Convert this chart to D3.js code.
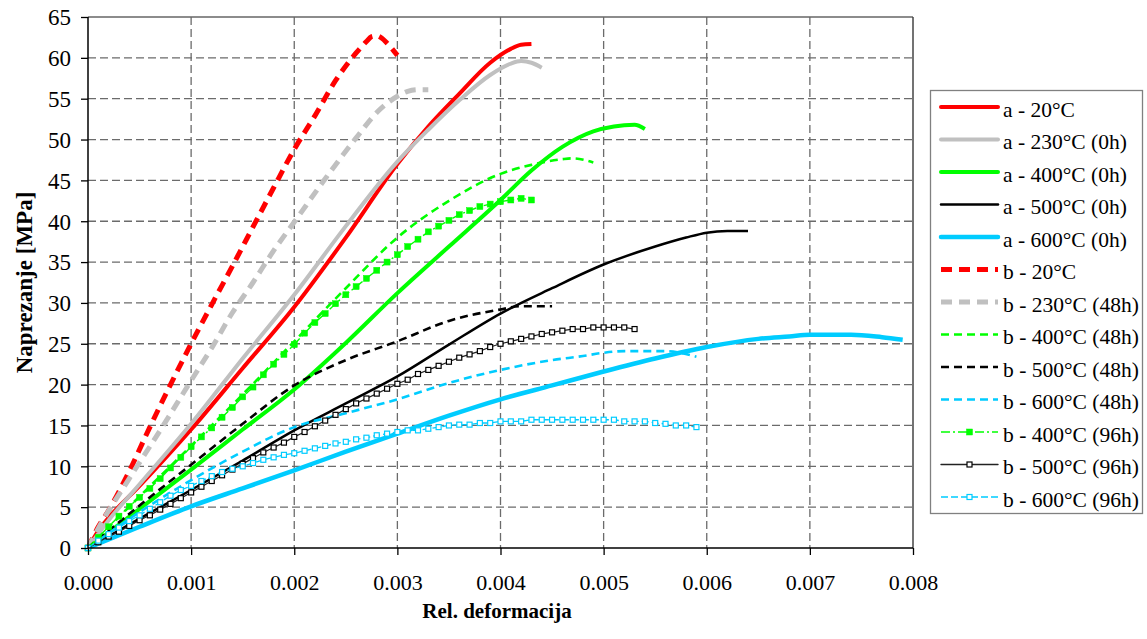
<!DOCTYPE html>
<html>
<head>
<meta charset="utf-8">
<script src="https://cdn.jsdelivr.net/npm/d3@7/dist/d3.min.js"></script>
<style>
  html, body { margin: 0; padding: 0; background: #fff; }
  svg { display: block; }
  svg text { font-family: "Liberation Serif", Tinos, "Times New Roman", Times, "DejaVu Serif", serif; fill: #000; }
</style>
</head>
<body>
<svg id="chart" width="1147" height="639"></svg>
<script>
// ---------- DATA ----------
const xTicks = [0, 0.001, 0.002, 0.003, 0.004, 0.005, 0.006, 0.007, 0.008];
const yTicks = [0, 5, 10, 15, 20, 25, 30, 35, 40, 45, 50, 55, 60, 65];
const xTitle = "Rel. deformacija";
const yTitle = "Naprezanje [MPa]";

const seriesNames = [
  "a - 20°C", "a - 230°C (0h)", "a - 400°C (0h)", "a - 500°C (0h)", "a - 600°C (0h)",
  "b - 20°C", "b - 230°C (48h)", "b - 400°C (48h)", "b - 500°C (48h)", "b - 600°C (48h)",
  "b - 400°C (96h)", "b - 500°C (96h)", "b - 600°C (96h)"
];

const a20 = [[0,0],[0.0001,2.1],[0.0002,3.7],[0.0005,7.6],[0.001,14.5],[0.0015,22.0],[0.002,29.5],[0.0025,38.0],[0.003,47.0],[0.0033,51.6],[0.0036,55.6],[0.0039,59.4],[0.0041,61.1],[0.0042,61.6],[0.0043,61.7]];
const a230 = [[0,0],[0.0002,3.4],[0.0005,7.8],[0.001,15.2],[0.0015,23.2],[0.002,31.0],[0.0025,39.4],[0.003,47.3],[0.0033,51.2],[0.0036,54.8],[0.0039,57.9],[0.0041,59.3],[0.0042,59.6],[0.0043,59.4],[0.0044,58.8]];
const a400 = [[0,0],[0.0005,4.8],[0.001,9.6],[0.0015,14.5],[0.002,19.4],[0.0025,25.1],[0.003,31.2],[0.0035,36.9],[0.004,42.6],[0.0043,46.2],[0.0046,49.1],[0.0049,51.0],[0.0051,51.6],[0.0053,51.8],[0.0054,51.3]];
const a500 = [[0,0],[0.0005,3.6],[0.001,7.1],[0.0015,10.7],[0.002,14.4],[0.0025,17.7],[0.003,21.0],[0.0035,24.9],[0.004,28.7],[0.0045,31.8],[0.005,34.7],[0.0055,36.9],[0.0058,38.0],[0.006,38.6],[0.0062,38.8],[0.0064,38.8]];
const a600 = [[0,0],[0.0005,2.6],[0.001,5.1],[0.0015,7.3],[0.002,9.5],[0.0025,11.8],[0.003,14.0],[0.0035,16.2],[0.004,18.2],[0.0045,19.9],[0.005,21.6],[0.0055,23.2],[0.006,24.6],[0.0065,25.6],[0.0068,25.9],[0.007,26.1],[0.0074,26.1],[0.0077,25.8],[0.0079,25.5]];

const b20 = [[0,0],[0.0001,2.6],[0.0002,4.6],[0.0004,9.4],[0.0006,14.8],[0.0008,20.0],[0.001,25.0],[0.0012,29.8],[0.0014,34.5],[0.0016,39.3],[0.0018,44.1],[0.002,48.8],[0.0022,52.9],[0.0024,57.2],[0.0026,60.6],[0.0027,62.0],[0.00275,62.6],[0.0028,62.7],[0.00285,62.4],[0.0029,61.8],[0.003,60.3]];
const b230_48 = [[0,0],[0.0001,2.4],[0.0004,8.5],[0.0007,14.4],[0.001,20.5],[0.0012,24.5],[0.0014,28.8],[0.0016,32.5],[0.0018,36.4],[0.002,39.9],[0.0023,45.2],[0.0026,50.2],[0.0028,53.3],[0.003,55.3],[0.0031,55.9],[0.0032,56.1],[0.0033,56.1]];
const b400_48 = [[0,0],[0.0005,6.3],[0.001,12.5],[0.0015,18.8],[0.002,25.3],[0.0025,31.8],[0.003,38.0],[0.0035,42.5],[0.004,45.8],[0.0043,46.9],[0.0046,47.6],[0.0047,47.7],[0.0049,47.2]];
const b500_48 = [[0,0],[0.0005,5.2],[0.001,10.2],[0.0015,15.2],[0.002,19.9],[0.0025,23.0],[0.003,25.3],[0.0035,27.8],[0.004,29.2],[0.0042,29.6],[0.0045,29.6]];
const b600_48 = [[0,0],[0.0005,4.4],[0.001,8.3],[0.0015,11.8],[0.002,14.8],[0.0025,16.5],[0.003,18.2],[0.0035,20.2],[0.004,21.8],[0.0045,23.0],[0.0048,23.5],[0.005,23.9],[0.0052,24.1],[0.0056,24.1],[0.0059,23.4]];

const b400_96 = [[0,0],[0.0001,1.3],[0.0002,2.6],[0.0003,3.9],[0.0004,5.1],[0.0005,6.2],[0.0006,7.3],[0.0007,8.5],[0.0008,9.8],[0.0009,11.1],[0.001,12.4],[0.0011,13.6],[0.0012,14.7],[0.0013,16.0],[0.0014,17.2],[0.0015,18.5],[0.0016,19.7],[0.0017,21.2],[0.0018,22.5],[0.0019,23.7],[0.002,24.9],[0.0021,26.3],[0.0022,27.6],[0.0023,28.7],[0.0024,29.9],[0.0025,31.0],[0.0026,32.0],[0.0027,33.0],[0.0028,34.0],[0.0029,35.0],[0.003,35.9],[0.0031,36.9],[0.0032,37.8],[0.0033,38.7],[0.0034,39.4],[0.0035,40.1],[0.0036,40.8],[0.0037,41.3],[0.0038,41.8],[0.0039,42.1],[0.004,42.4],[0.0041,42.6],[0.0042,42.8],[0.0043,42.6]];
const b500_96 = [[0,0],[0.0001,0.7],[0.0002,1.4],[0.0003,2.0],[0.0004,2.7],[0.0005,3.4],[0.0006,4.0],[0.0007,4.7],[0.0008,5.4],[0.0009,6.1],[0.001,6.8],[0.0011,7.5],[0.0012,8.2],[0.0013,8.9],[0.0014,9.6],[0.0015,10.3],[0.0016,11.0],[0.0017,11.7],[0.0018,12.3],[0.0019,12.9],[0.002,13.6],[0.0021,14.2],[0.0022,14.9],[0.0023,15.6],[0.0024,16.3],[0.0025,17.0],[0.0026,17.7],[0.0027,18.3],[0.0028,18.9],[0.0029,19.5],[0.003,20.1],[0.0031,20.6],[0.0032,21.3],[0.0033,21.8],[0.0034,22.3],[0.0035,22.8],[0.0036,23.3],[0.0037,23.7],[0.0038,24.1],[0.0039,24.6],[0.004,25.0],[0.0041,25.3],[0.0042,25.6],[0.0043,25.9],[0.0044,26.2],[0.0045,26.4],[0.0046,26.6],[0.0047,26.8],[0.0048,26.8],[0.0049,27.0],[0.005,27.0],[0.0051,27.0],[0.0052,27.0],[0.0053,26.8]];
const b600_96 = [[0,0],[0.0001,0.9],[0.0002,1.7],[0.0003,2.5],[0.0004,3.3],[0.0005,4.0],[0.0006,4.8],[0.0007,5.6],[0.0008,6.4],[0.0009,7.1],[0.001,7.6],[0.0011,8.2],[0.0012,8.8],[0.0013,9.3],[0.0014,9.7],[0.0015,10.0],[0.0016,10.4],[0.0017,10.8],[0.0018,11.1],[0.0019,11.4],[0.002,11.6],[0.0021,11.9],[0.0022,12.2],[0.0023,12.5],[0.0024,12.8],[0.0025,13.0],[0.0026,13.3],[0.0027,13.5],[0.0028,13.8],[0.0029,14.0],[0.003,14.2],[0.0031,14.4],[0.0032,14.4],[0.0033,14.6],[0.0034,14.8],[0.0035,15.0],[0.0036,15.1],[0.0037,15.1],[0.0038,15.3],[0.0039,15.3],[0.004,15.5],[0.0041,15.5],[0.0042,15.5],[0.0043,15.7],[0.0044,15.7],[0.0045,15.7],[0.0046,15.7],[0.0047,15.7],[0.0048,15.7],[0.0049,15.7],[0.005,15.7],[0.0051,15.7],[0.0052,15.5],[0.0053,15.5],[0.0054,15.5],[0.0055,15.3],[0.0056,15.2],[0.0057,15.0],[0.0058,15.0],[0.0059,14.8]];

const seriesData = [a20, a230, a400, a500, a600, b20, b230_48, b400_48, b500_48, b600_48, b400_96, b500_96, b600_96];

// ---------- STYLES ----------
const styles = [
  {color:"#ff0000", width:4,   dash:null},
  {color:"#c0c0c0", width:4,   dash:null},
  {color:"#00ff00", width:4,   dash:null},
  {color:"#000000", width:2.5, dash:null},
  {color:"#00ccff", width:4.5, dash:null},
  {color:"#ff0000", width:5,   dash:"11,7"},
  {color:"#c0c0c0", width:5,   dash:"11,7"},
  {color:"#00ff00", width:2.6, dash:"8,5"},
  {color:"#000000", width:2.6, dash:"8,5"},
  {color:"#00ccff", width:2.6, dash:"8,5"},
  {color:"#00ff00", width:1.4, dash:"9,3,2,3", marker:"filled", msize:6},
  {color:"#000000", width:1.2, dash:null, marker:"hollow", msize:5, lcolor:"#222"},
  {color:"#00ccff", width:1.3, dash:"7,3", marker:"hollow", msize:5}
];

// ---------- LAYOUT ----------
const L = 88, R = 913, T = 17, B = 548;
const FONT = "'Liberation Serif', Tinos, 'Times New Roman', Times, 'DejaVu Serif', serif";
const svg = d3.select("#chart");

const x = d3.scaleLinear().domain([0, 0.008]).range([L, R]);
const y = d3.scaleLinear().domain([0, 65]).range([B, T]);

// grid
const grid = svg.append("g");
grid.selectAll("line.h").data(yTicks.filter(v => v > 0 && v < 65)).enter().append("line")
  .attr("x1", L).attr("x2", R).attr("y1", d => y(d)).attr("y2", d => y(d))
  .attr("stroke", "#6b6b6b").attr("stroke-width", 1.3).attr("stroke-dasharray", "8,4");
grid.selectAll("line.v").data(xTicks.filter(v => v > 0 && v < 0.008)).enter().append("line")
  .attr("x1", d => x(d)).attr("x2", d => x(d)).attr("y1", T).attr("y2", B)
  .attr("stroke", "#6b6b6b").attr("stroke-width", 1.3).attr("stroke-dasharray", "8,4");

// plot border (top/right)
svg.append("line").attr("x1", L).attr("x2", R).attr("y1", T).attr("y2", T).attr("stroke", "#666").attr("stroke-width", 1.5);
svg.append("line").attr("x1", R).attr("x2", R).attr("y1", T).attr("y2", B).attr("stroke", "#444").attr("stroke-width", 1.5);

// series
const plot = svg.append("g");
seriesData.forEach((data, i) => {
  const s = styles[i];
  const gen = d3.line().x(d => x(d[0])).y(d => y(d[1]))
    .curve(s.marker ? d3.curveLinear : d3.curveMonotoneX);
  plot.append("path").datum(data)
    .attr("d", gen)
    .attr("fill", "none")
    .attr("stroke", s.lcolor || s.color)
    .attr("stroke-width", s.width)
    .attr("stroke-linejoin", "round")
    .attr("stroke-dasharray", s.dash);
});
// markers on top
seriesData.forEach((data, i) => {
  const s = styles[i];
  if (!s.marker) return;
  plot.append("g").selectAll("rect").data(data).enter().append("rect")
    .attr("x", d => x(d[0]) - s.msize / 2)
    .attr("y", d => y(d[1]) - s.msize / 2)
    .attr("width", s.msize).attr("height", s.msize)
    .attr("fill", s.marker === "filled" ? s.color : "#fff")
    .attr("stroke", s.color)
    .attr("stroke-width", s.marker === "filled" ? 0.5 : 1.2);
});

// axes
const xAxis = d3.axisBottom(x).tickValues(xTicks).tickFormat(d3.format(".3f")).tickSize(7).tickPadding(0);
const yAxis = d3.axisLeft(y).tickValues(yTicks).tickFormat(d3.format("d")).tickSize(7).tickPadding(0);

const gx = svg.append("g").attr("transform", `translate(0,${B})`).call(xAxis)
  .attr("font-family", FONT);
gx.select(".domain").attr("stroke", "#000").attr("stroke-width", 1.5).attr("d", `M${L},0H${R}`);
gx.selectAll(".tick line").attr("stroke", "#000").attr("stroke-width", 1.3);
gx.selectAll(".tick text").attr("font-size", 22)
  .attr("y", 42).attr("dy", null).attr("fill", "#000");

const gy = svg.append("g").attr("transform", `translate(${L},0)`).call(yAxis)
  .attr("font-family", FONT);
gy.select(".domain").attr("stroke", "#000").attr("stroke-width", 1.5).attr("d", `M0,${B}V${T}`);
gy.selectAll(".tick line").attr("stroke", "#000").attr("stroke-width", 1.3);
gy.selectAll(".tick text").attr("font-size", 23)
  .attr("x", -17).attr("dy", "0.34em").attr("fill", "#000");

// axis titles
svg.append("text").attr("x", 497).attr("y", 618).attr("text-anchor", "middle")
  .attr("font-family", FONT)
  .attr("font-size", 21).attr("font-weight", "bold").text(xTitle);
svg.append("text").attr("transform", `translate(32,${(T + B) / 2}) rotate(-90)`)
  .attr("font-family", FONT)
  .attr("text-anchor", "middle").attr("font-size", 23).attr("font-weight", "bold").text(yTitle);

// legend
const lg = svg.append("g").attr("font-family", FONT);
lg.append("rect").attr("x", 930.5).attr("y", 90.5).attr("width", 212).attr("height", 423)
  .attr("fill", "#fff").attr("stroke", "#808080").attr("stroke-width", 1.3);
seriesNames.forEach((name, i) => {
  const s = styles[i];
  const cy = 107 + i * 32.5;
  lg.append("line").attr("x1", 941).attr("x2", 998).attr("y1", cy).attr("y2", cy)
    .attr("stroke", s.lcolor || s.color).attr("stroke-width", Math.max(s.width, 1.4))
    .attr("stroke-linecap", s.dash ? "butt" : "round")
    .attr("stroke-dasharray", s.dash);
  if (s.marker) {
    lg.append("rect").attr("x", 969.5 - s.msize / 2).attr("y", cy - s.msize / 2)
      .attr("width", s.msize).attr("height", s.msize)
      .attr("fill", s.marker === "filled" ? s.color : "#fff")
      .attr("stroke", s.color).attr("stroke-width", s.marker === "filled" ? 0.5 : 1.2);
  }
  lg.append("text").attr("x", 1003).attr("y", cy + 9.5).attr("font-size", 21.5).text(name);
});
</script>
</body>
</html>
